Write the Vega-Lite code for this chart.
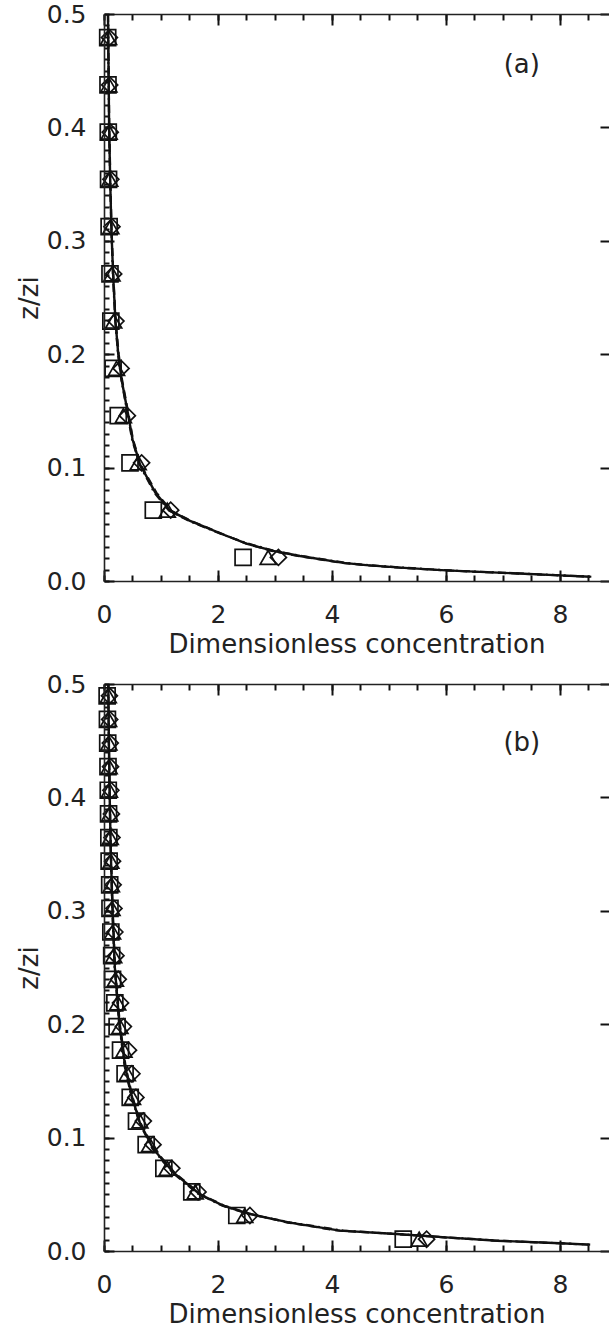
{
  "$schema": "https://vega.github.io/schema/vega-lite/v6.json",
  "padding": {"left": 16, "top": 2, "right": 0, "bottom": 0},
  "spacing": 15,
  "config": {
    "view": {"stroke": null},
    "axis": {
      "zindex": 1,
      "grid": false,
      "gridColor": "#111",
      "gridWidth": 2,
      "gridOpacity": 1,
      "domainColor": "#222",
      "tickColor": "#111",
      "domainWidth": 1.6,
      "tickWidth": 2,
      "labelColor": "#222",
      "titleColor": "#222",
      "labelFont": "DejaVu Sans",
      "titleFont": "DejaVu Sans",
      "labelFontSize": 25,
      "titleFontSize": 26,
      "titleFontWeight": "normal"
    }
  },
  "datasets": {
    "a_line": [
      {"z": 0.0038, "solid": 8.53, "dashed": 8.50, "dashdot": 8.55},
      {"z": 0.005, "solid": 8.0, "dashed": 7.92, "dashdot": 8.06},
      {"z": 0.0072, "solid": 7.0, "dashed": 6.93, "dashdot": 7.06},
      {"z": 0.0094, "solid": 6.0, "dashed": 5.94, "dashdot": 6.06},
      {"z": 0.0118, "solid": 5.2, "dashed": 5.15, "dashdot": 5.26},
      {"z": 0.014, "solid": 4.6, "dashed": 4.55, "dashdot": 4.66},
      {"z": 0.016, "solid": 4.2, "dashed": 4.15, "dashdot": 4.25},
      {"z": 0.022, "solid": 3.44, "dashed": 3.40, "dashdot": 3.48},
      {"z": 0.0265, "solid": 2.97, "dashed": 2.94, "dashdot": 3.0},
      {"z": 0.033, "solid": 2.5, "dashed": 2.49, "dashdot": 2.53},
      {"z": 0.041, "solid": 2.09, "dashed": 2.1, "dashdot": 2.08},
      {"z": 0.047, "solid": 1.8, "dashed": 1.82, "dashdot": 1.78},
      {"z": 0.053, "solid": 1.51, "dashed": 1.53, "dashdot": 1.49},
      {"z": 0.062, "solid": 1.16, "dashed": 1.18, "dashdot": 1.14},
      {"z": 0.078, "solid": 0.9, "dashed": 0.92, "dashdot": 0.88},
      {"z": 0.103, "solid": 0.63, "dashed": 0.64, "dashdot": 0.62},
      {"z": 0.125, "solid": 0.5, "dashed": 0.51, "dashdot": 0.49},
      {"z": 0.145, "solid": 0.43, "dashed": 0.44, "dashdot": 0.42},
      {"z": 0.177, "solid": 0.31, "dashed": 0.32, "dashdot": 0.305},
      {"z": 0.2, "solid": 0.25, "dashed": 0.26, "dashdot": 0.245},
      {"z": 0.23, "solid": 0.2, "dashed": 0.205, "dashdot": 0.195},
      {"z": 0.27, "solid": 0.16, "dashed": 0.165, "dashdot": 0.155},
      {"z": 0.31, "solid": 0.13, "dashed": 0.135, "dashdot": 0.128},
      {"z": 0.35, "solid": 0.11, "dashed": 0.115, "dashdot": 0.108},
      {"z": 0.4, "solid": 0.09, "dashed": 0.095, "dashdot": 0.088},
      {"z": 0.45, "solid": 0.08, "dashed": 0.083, "dashdot": 0.078},
      {"z": 0.5, "solid": 0.07, "dashed": 0.072, "dashdot": 0.068}
    ],
    "a_pts": [
      {"z": 0.0208, "square": 2.44, "triangle": 2.88, "diamond": 3.06},
      {"z": 0.0625, "square": 0.865, "triangle": 1.11, "diamond": 1.17},
      {"z": 0.1042, "square": 0.456, "triangle": 0.60, "diamond": 0.66},
      {"z": 0.1458, "square": 0.25, "triangle": 0.34, "diamond": 0.41},
      {"z": 0.1875, "square": 0.16, "triangle": 0.22, "diamond": 0.30},
      {"z": 0.2292, "square": 0.12, "triangle": 0.17, "diamond": 0.21},
      {"z": 0.2708, "square": 0.105, "triangle": 0.14, "diamond": 0.17},
      {"z": 0.3125, "square": 0.09, "triangle": 0.12, "diamond": 0.14},
      {"z": 0.3542, "square": 0.08, "triangle": 0.10, "diamond": 0.12},
      {"z": 0.3958, "square": 0.075, "triangle": 0.09, "diamond": 0.11},
      {"z": 0.4375, "square": 0.07, "triangle": 0.085, "diamond": 0.10},
      {"z": 0.4792, "square": 0.065, "triangle": 0.08, "diamond": 0.095}
    ],
    "b_line": [
      {"z": 0.0056, "solid": 8.53, "dashed": 8.5, "dashdot": 8.55},
      {"z": 0.0068, "solid": 8.0, "dashed": 7.95, "dashdot": 8.05},
      {"z": 0.0091, "solid": 6.9, "dashed": 6.85, "dashdot": 6.95},
      {"z": 0.012, "solid": 6.0, "dashed": 5.95, "dashdot": 6.05},
      {"z": 0.015, "solid": 5.13, "dashed": 5.08, "dashdot": 5.18},
      {"z": 0.018, "solid": 4.14, "dashed": 4.1, "dashdot": 4.2},
      {"z": 0.025, "solid": 3.26, "dashed": 3.22, "dashdot": 3.3},
      {"z": 0.0326, "solid": 2.56, "dashed": 2.58, "dashdot": 2.54},
      {"z": 0.04, "solid": 2.09, "dashed": 2.11, "dashdot": 2.07},
      {"z": 0.05, "solid": 1.68, "dashed": 1.70, "dashdot": 1.66},
      {"z": 0.069, "solid": 1.22, "dashed": 1.24, "dashdot": 1.2},
      {"z": 0.09, "solid": 0.865, "dashed": 0.88, "dashdot": 0.85},
      {"z": 0.113, "solid": 0.63, "dashed": 0.64, "dashdot": 0.62},
      {"z": 0.137, "solid": 0.485, "dashed": 0.495, "dashdot": 0.475},
      {"z": 0.163, "solid": 0.37, "dashed": 0.38, "dashdot": 0.36},
      {"z": 0.2, "solid": 0.27, "dashed": 0.28, "dashdot": 0.265},
      {"z": 0.25, "solid": 0.19, "dashed": 0.195, "dashdot": 0.185},
      {"z": 0.3, "solid": 0.15, "dashed": 0.155, "dashdot": 0.145},
      {"z": 0.35, "solid": 0.12, "dashed": 0.124, "dashdot": 0.117},
      {"z": 0.4, "solid": 0.1, "dashed": 0.103, "dashdot": 0.097},
      {"z": 0.45, "solid": 0.085, "dashed": 0.088, "dashdot": 0.083},
      {"z": 0.5, "solid": 0.075, "dashed": 0.078, "dashdot": 0.073}
    ],
    "b_pts": [
      {"z": 0.0104, "square": 5.25, "triangle": 5.53, "diamond": 5.66},
      {"z": 0.0313, "square": 2.33, "triangle": 2.47, "diamond": 2.56},
      {"z": 0.0521, "square": 1.54, "triangle": 1.60, "diamond": 1.65},
      {"z": 0.0729, "square": 1.05, "triangle": 1.11, "diamond": 1.19},
      {"z": 0.0938, "square": 0.74, "triangle": 0.80, "diamond": 0.86},
      {"z": 0.1146, "square": 0.57, "triangle": 0.63, "diamond": 0.69},
      {"z": 0.1354, "square": 0.46, "triangle": 0.50, "diamond": 0.56},
      {"z": 0.1563, "square": 0.37, "triangle": 0.41, "diamond": 0.49},
      {"z": 0.1771, "square": 0.29, "triangle": 0.35, "diamond": 0.43},
      {"z": 0.1979, "square": 0.23, "triangle": 0.28, "diamond": 0.34},
      {"z": 0.2188, "square": 0.19, "triangle": 0.24, "diamond": 0.29},
      {"z": 0.2396, "square": 0.15, "triangle": 0.20, "diamond": 0.25},
      {"z": 0.2604, "square": 0.135, "triangle": 0.17, "diamond": 0.21},
      {"z": 0.2813, "square": 0.12, "triangle": 0.15, "diamond": 0.19},
      {"z": 0.3021, "square": 0.105, "triangle": 0.14, "diamond": 0.175},
      {"z": 0.3229, "square": 0.10, "triangle": 0.13, "diamond": 0.16},
      {"z": 0.3438, "square": 0.09, "triangle": 0.12, "diamond": 0.15},
      {"z": 0.3646, "square": 0.085, "triangle": 0.11, "diamond": 0.14},
      {"z": 0.3854, "square": 0.08, "triangle": 0.10, "diamond": 0.13},
      {"z": 0.4063, "square": 0.075, "triangle": 0.095, "diamond": 0.12},
      {"z": 0.4271, "square": 0.07, "triangle": 0.09, "diamond": 0.115},
      {"z": 0.4479, "square": 0.065, "triangle": 0.085, "diamond": 0.11},
      {"z": 0.4688, "square": 0.06, "triangle": 0.08, "diamond": 0.10},
      {"z": 0.4896, "square": 0.055, "triangle": 0.075, "diamond": 0.095}
    ]
  },
  "vconcat": [
    {
      "width": 505,
      "height": 567,
      "resolve": {"axis": {"x": "independent", "y": "independent"}},
      "layer": [
        {
          "data": {"name": "a_line"},
          "transform": [{"fold": ["solid", "dashed", "dashdot"], "as": ["s", "c"]}, {"filter": "datum.s === 'solid'"}],
          "mark": {"type": "line", "color": "#111", "strokeWidth": 2.4},
          "encoding": {
            "x": {"field": "c", "type": "quantitative", "scale": {"domain": [0, 8.86], "nice": false, "zero": false},
                  "axis": {"orient": "bottom", "zindex": 1, "values": [0, 2, 4, 6, 8], "tickSize": -11, "grid": true, "gridDash": [11, 2000],
                           "labelPadding": 32, "labelFlush": false, "title": "Dimensionless concentration", "titlePadding": 4}},
            "y": {"field": "z", "type": "quantitative", "scale": {"domain": [0, 0.5], "nice": false},
                  "axis": {"orient": "left", "zindex": 1, "values": [0, 0.1, 0.2, 0.3, 0.4, 0.5], "format": ".1f", "tickSize": -10, "grid": true, "gridDash": [9, 496], "gridDashOffset": 9,
                           "labelPadding": 28, "title": "z/zi", "titlePadding": 4}}
          }
        },
        {
          "data": {"name": "a_line"},
          "transform": [{"fold": ["solid", "dashed", "dashdot"], "as": ["s", "c"]}, {"filter": "datum.s === 'dashed'"}],
          "mark": {"type": "line", "color": "#111", "strokeWidth": 2, "strokeDash": [8, 5]},
          "encoding": {
            "x": {"field": "c", "type": "quantitative", "scale": {"domain": [0, 8.86], "nice": false, "zero": false}, "axis": null},
            "y": {"field": "z", "type": "quantitative", "scale": {"domain": [0, 0.5], "nice": false}, "axis": null}
          }
        },
        {
          "data": {"name": "a_line"},
          "transform": [{"fold": ["solid", "dashed", "dashdot"], "as": ["s", "c"]}, {"filter": "datum.s === 'dashdot'"}],
          "mark": {"type": "line", "color": "#111", "strokeWidth": 2, "strokeDash": [8, 4, 2, 4]},
          "encoding": {
            "x": {"field": "c", "type": "quantitative", "scale": {"domain": [0, 8.86], "nice": false, "zero": false},
                  "axis": {"orient": "top", "zindex": 1, "tickCount": 18, "tickSize": -6, "labels": false, "domain": true, "grid": true, "gridDash": [6, 2000], "title": null}},
            "y": {"field": "z", "type": "quantitative", "scale": {"domain": [0, 0.5], "nice": false},
                  "axis": {"orient": "right", "zindex": 1, "tickCount": 50, "tickSize": 0, "labels": false, "domain": false, "grid": true, "gridDash": [5, 500], "gridDashOffset": 5, "title": null}}
          }
        },
        {
          "data": {"name": "a_pts"},
          "transform": [{"fold": ["square", "triangle", "diamond"], "as": ["s", "c"]}],
          "mark": {"type": "point", "filled": false, "color": "#111", "strokeWidth": 1.7, "size": 256, "opacity": 1},
          "encoding": {
            "x": {"field": "c", "type": "quantitative", "scale": {"domain": [0, 8.86], "nice": false, "zero": false}, "axis": null},
            "y": {"field": "z", "type": "quantitative", "scale": {"domain": [0, 0.5], "nice": false}, "axis": null},
            "shape": {"field": "s", "type": "nominal", "scale": {"domain": ["square", "triangle", "diamond"], "range": ["square", "triangle-up", "diamond"]}, "legend": null}
          }
        },
        {
          "data": {"values": [{"label": "(a)"}]},
          "mark": {"type": "text", "font": "DejaVu Sans", "fontSize": 26, "color": "#222"},
          "encoding": {
            "text": {"field": "label", "type": "nominal"},
            "x": {"datum": 7.33, "type": "quantitative", "scale": {"domain": [0, 8.86], "nice": false, "zero": false}, "axis": null},
            "y": {"datum": 0.455, "type": "quantitative", "scale": {"domain": [0, 0.5], "nice": false}, "axis": null}
          }
        }
      ]
    },
    {
      "width": 505,
      "height": 567,
      "resolve": {"axis": {"x": "independent", "y": "independent"}},
      "layer": [
        {
          "data": {"name": "b_line"},
          "transform": [{"fold": ["solid", "dashed", "dashdot"], "as": ["s", "c"]}, {"filter": "datum.s === 'solid'"}],
          "mark": {"type": "line", "color": "#111", "strokeWidth": 2.4},
          "encoding": {
            "x": {"field": "c", "type": "quantitative", "scale": {"domain": [0, 8.86], "nice": false, "zero": false},
                  "axis": {"orient": "bottom", "zindex": 1, "values": [0, 2, 4, 6, 8], "tickSize": -11, "grid": true, "gridDash": [11, 2000],
                           "labelPadding": 32, "labelFlush": false, "title": "Dimensionless concentration", "titlePadding": 4}},
            "y": {"field": "z", "type": "quantitative", "scale": {"domain": [0, 0.5], "nice": false},
                  "axis": {"orient": "left", "zindex": 1, "values": [0, 0.1, 0.2, 0.3, 0.4, 0.5], "format": ".1f", "tickSize": -10, "grid": true, "gridDash": [9, 496], "gridDashOffset": 9,
                           "labelPadding": 28, "title": "z/zi", "titlePadding": 4}}
          }
        },
        {
          "data": {"name": "b_line"},
          "transform": [{"fold": ["solid", "dashed", "dashdot"], "as": ["s", "c"]}, {"filter": "datum.s === 'dashed'"}],
          "mark": {"type": "line", "color": "#111", "strokeWidth": 2, "strokeDash": [8, 5]},
          "encoding": {
            "x": {"field": "c", "type": "quantitative", "scale": {"domain": [0, 8.86], "nice": false, "zero": false}, "axis": null},
            "y": {"field": "z", "type": "quantitative", "scale": {"domain": [0, 0.5], "nice": false}, "axis": null}
          }
        },
        {
          "data": {"name": "b_line"},
          "transform": [{"fold": ["solid", "dashed", "dashdot"], "as": ["s", "c"]}, {"filter": "datum.s === 'dashdot'"}],
          "mark": {"type": "line", "color": "#111", "strokeWidth": 2, "strokeDash": [8, 4, 2, 4]},
          "encoding": {
            "x": {"field": "c", "type": "quantitative", "scale": {"domain": [0, 8.86], "nice": false, "zero": false},
                  "axis": {"orient": "top", "zindex": 1, "tickCount": 18, "tickSize": -6, "labels": false, "domain": true, "grid": true, "gridDash": [6, 2000], "title": null}},
            "y": {"field": "z", "type": "quantitative", "scale": {"domain": [0, 0.5], "nice": false},
                  "axis": {"orient": "right", "zindex": 1, "tickCount": 50, "tickSize": 0, "labels": false, "domain": false, "grid": true, "gridDash": [5, 500], "gridDashOffset": 5, "title": null}}
          }
        },
        {
          "data": {"name": "b_pts"},
          "transform": [{"fold": ["square", "triangle", "diamond"], "as": ["s", "c"]}],
          "mark": {"type": "point", "filled": false, "color": "#111", "strokeWidth": 1.7, "size": 256, "opacity": 1},
          "encoding": {
            "x": {"field": "c", "type": "quantitative", "scale": {"domain": [0, 8.86], "nice": false, "zero": false}, "axis": null},
            "y": {"field": "z", "type": "quantitative", "scale": {"domain": [0, 0.5], "nice": false}, "axis": null},
            "shape": {"field": "s", "type": "nominal", "scale": {"domain": ["square", "triangle", "diamond"], "range": ["square", "triangle-up", "diamond"]}, "legend": null}
          }
        },
        {
          "data": {"values": [{"label": "(b)"}]},
          "mark": {"type": "text", "font": "DejaVu Sans", "fontSize": 26, "color": "#222"},
          "encoding": {
            "text": {"field": "label", "type": "nominal"},
            "x": {"datum": 7.33, "type": "quantitative", "scale": {"domain": [0, 8.86], "nice": false, "zero": false}, "axis": null},
            "y": {"datum": 0.448, "type": "quantitative", "scale": {"domain": [0, 0.5], "nice": false}, "axis": null}
          }
        }
      ]
    }
  ]
}
